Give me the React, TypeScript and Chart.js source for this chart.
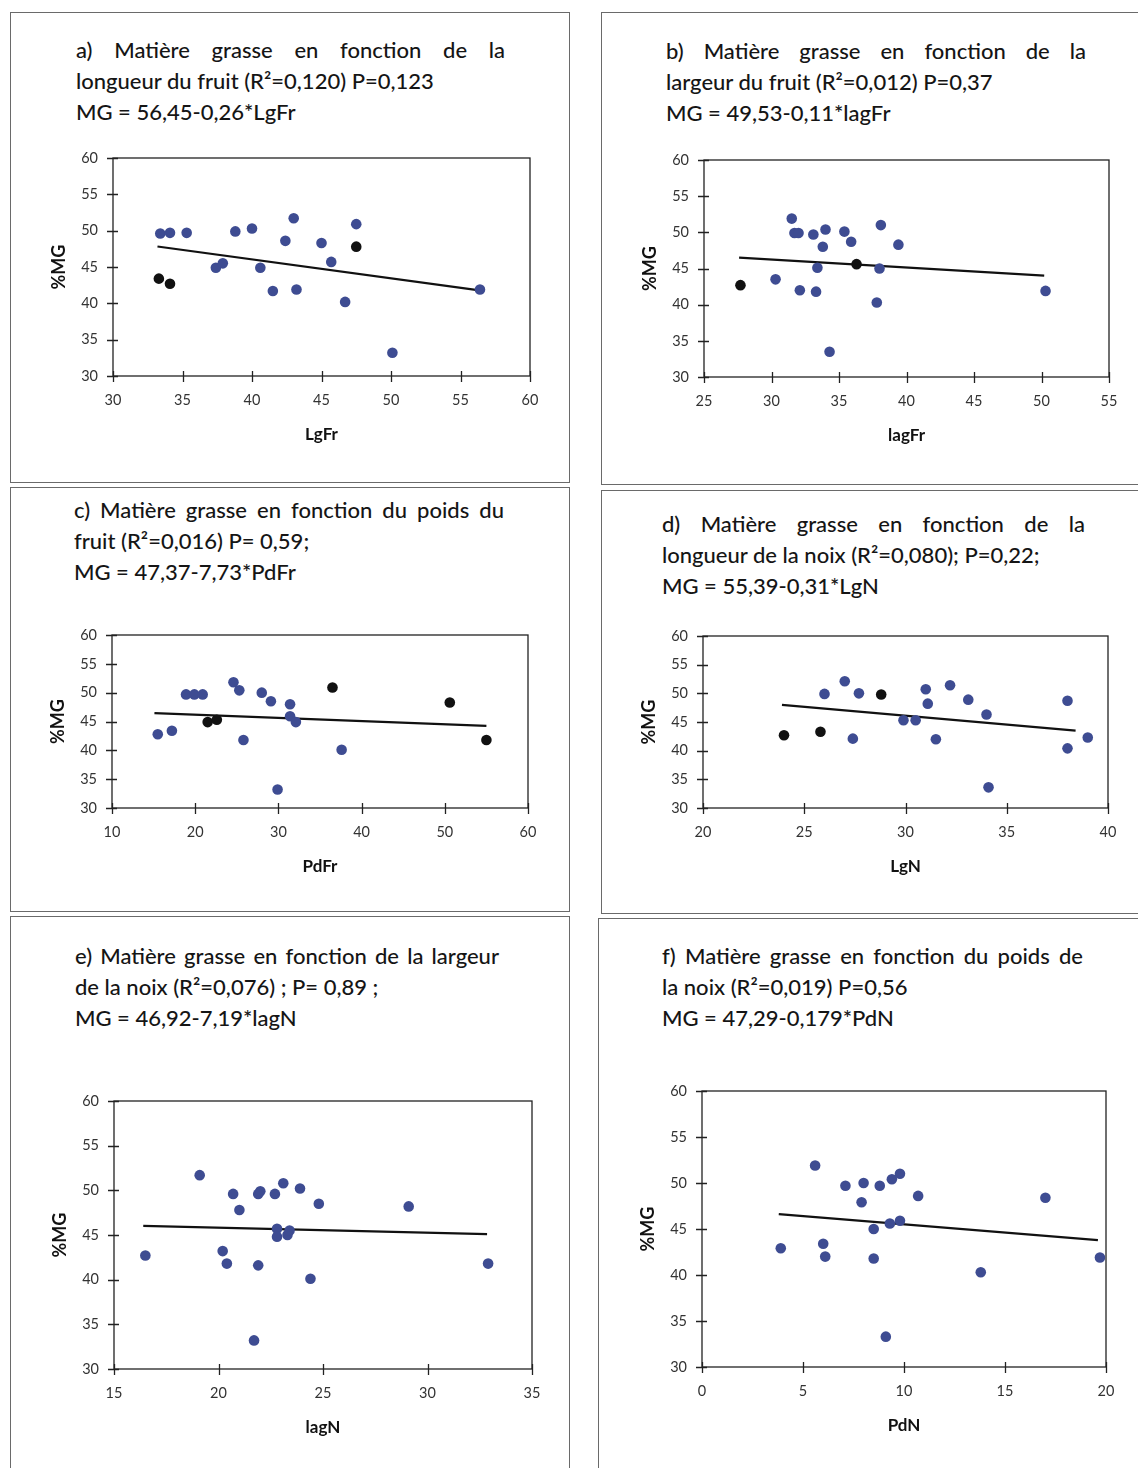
import React, { useEffect, useRef } from 'react';
import { Chart, registerables } from 'chart.js';
Chart.register(...registerables);

// ---------- data ----------
const aX = [33.4, 34.1, 35.3, 33.3, 34.1, 37.4, 37.9, 38.8, 40.0, 40.6, 41.5, 42.4, 43.0, 43.2, 45.0, 45.7, 46.7, 47.5, 47.5, 50.1, 56.4];
const aY = [49.6, 49.7, 49.7, 43.4, 42.7, 44.9, 45.5, 49.9, 50.3, 44.9, 41.7, 48.6, 51.7, 41.9, 48.3, 45.7, 40.2, 50.9, 47.8, 33.2, 41.9];
const aDark = [0, 0, 0, 1, 1, 0, 0, 0, 0, 0, 0, 0, 0, 0, 0, 0, 0, 0, 1, 0, 0];

const bX = [27.7, 30.3, 31.5, 31.7, 32.0, 32.1, 33.1, 33.8, 34.0, 33.4, 33.3, 34.3, 35.4, 35.9, 36.3, 37.8, 38.0, 38.1, 39.4, 50.3];
const bY = [42.7, 43.5, 51.9, 49.9, 49.9, 42.0, 49.7, 48.0, 50.4, 45.1, 41.8, 33.5, 50.1, 48.7, 45.6, 40.3, 45.0, 51.0, 48.3, 41.9];
const bDark = [1, 0, 0, 0, 0, 0, 0, 0, 0, 0, 0, 0, 0, 0, 1, 0, 0, 0, 0, 0];

const cX = [15.5, 17.2, 18.9, 19.9, 20.9, 21.5, 22.6, 24.6, 25.3, 25.8, 28.0, 29.1, 29.9, 31.4, 31.4, 32.1, 36.5, 37.6, 50.6, 55.0];
const cY = [42.8, 43.4, 49.7, 49.7, 49.7, 44.9, 45.3, 51.8, 50.4, 41.8, 50.0, 48.5, 33.2, 48.0, 45.9, 44.9, 50.9, 40.1, 48.3, 41.8];
const cDark = [0, 0, 0, 0, 0, 1, 1, 0, 0, 0, 0, 0, 0, 0, 0, 0, 1, 0, 1, 1];

const dX = [24.0, 25.8, 26.0, 27.0, 27.4, 27.7, 28.8, 29.9, 30.5, 31.0, 31.1, 31.5, 32.2, 33.1, 34.0, 34.1, 38.0, 38.0, 39.0];
const dY = [42.7, 43.3, 49.9, 52.1, 42.1, 50.0, 49.8, 45.3, 45.3, 50.7, 48.2, 42.0, 51.4, 48.9, 46.3, 33.6, 48.7, 40.4, 42.3];
const dDark = [1, 1, 0, 0, 0, 0, 1, 0, 0, 0, 0, 0, 0, 0, 0, 0, 0, 0, 0];

const eX = [16.5, 19.1, 20.2, 20.4, 20.7, 21.0, 21.7, 21.9, 21.9, 22.0, 22.7, 22.8, 22.8, 23.1, 23.3, 23.4, 23.9, 24.4, 24.8, 29.1, 32.9];
const eY = [42.7, 51.7, 43.2, 41.8, 49.6, 47.8, 33.2, 41.6, 49.6, 49.9, 49.6, 45.7, 44.8, 50.8, 45.0, 45.5, 50.2, 40.1, 48.5, 48.2, 41.8];
const eDark = eX.map(() => 0);

const fX = [3.9, 5.6, 6.0, 6.1, 7.1, 8.0, 7.9, 8.5, 8.5, 8.8, 9.1, 9.3, 9.4, 9.8, 9.8, 10.7, 13.8, 17.0, 19.7];
const fY = [42.9, 51.9, 43.4, 42.0, 49.7, 50.0, 47.9, 45.0, 41.8, 49.7, 33.3, 45.6, 50.4, 45.9, 51.0, 48.6, 40.3, 48.4, 41.9];
const fDark = fX.map(() => 0);

// regression lines: intercept, slope, x range
const lineIntercepts = [56.45, 49.53, 47.3, 55.39, 46.96, 47.29];
const lineSlopes = [-0.26, -0.11, -0.0556, -0.31, -0.057, -0.179];
const lineRanges = [[33.2, 56.1], [27.6, 50.2], [15.1, 55.0], [23.9, 38.4], [16.4, 32.85], [3.8, 19.6]];

// axes
const xTitles = ['LgFr', 'lagFr', 'PdFr', 'LgN', 'lagN', 'PdN'];
const xMins = [30, 25, 10, 20, 15, 0];
const xMaxs = [60, 55, 60, 40, 35, 20];
const xSteps = [5, 5, 10, 5, 5, 5];
const yTitle = '%MG';
const yMin = 30;
const yMax = 60;
const yStep = 5;

const titles = [
  ['a) Matière grasse en fonction de la', 'longueur du fruit (R²=0,120) P=0,123', 'MG = 56,45-0,26*LgFr'],
  ['b) Matière grasse en fonction de la', 'largeur du fruit (R²=0,012) P=0,37', 'MG = 49,53-0,11*lagFr'],
  ['c) Matière grasse en fonction du poids du', 'fruit (R²=0,016) P= 0,59;', 'MG = 47,37-7,73*PdFr'],
  ['d) Matière grasse en fonction de la', 'longueur de la noix (R²=0,080); P=0,22;', 'MG = 55,39-0,31*LgN'],
  ['e) Matière grasse en fonction de la largeur', 'de la noix (R²=0,076) ; P= 0,89 ;', 'MG = 46,92-7,19*lagN'],
  ['f) Matière grasse en fonction du poids de', 'la noix (R²=0,019) P=0,56', 'MG = 47,29-0,179*PdN'],
];

// ---------- layout (not data) ----------
const plotBoxes = [
  { L: 113, R: 530, T: 158, B: 376 },
  { L: 704, R: 1109, T: 160, B: 377 },
  { L: 112, R: 528, T: 635, B: 808 },
  { L: 703, R: 1108, T: 636, B: 808 },
  { L: 114, R: 532, T: 1101, B: 1369 },
  { L: 702, R: 1106, T: 1091, B: 1367 },
];
const titleBoxes = [
  { left: 76, right: 505, top: 49 },
  { left: 666, right: 1086, top: 50 },
  { left: 74, right: 504, top: 509 },
  { left: 662, right: 1085, top: 523 },
  { left: 75, right: 499, top: 955 },
  { left: 662, right: 1083, top: 955 },
];
const frames = [
  { left: 10, top: 12, width: 560, height: 471 },
  { left: 601, top: 12, width: 560, height: 473 },
  { left: 10, top: 487, width: 560, height: 425 },
  { left: 601, top: 490, width: 560, height: 424 },
  { left: 10, top: 916, width: 560, height: 600 },
  { left: 598, top: 918, width: 560, height: 600 },
];

const BLUE = '#3e4c92';
const DARK = '#111111';
const FONT = 'Lato, "Open Sans", sans-serif';

const xs = [aX, bX, cX, dX, eX, fX];
const ys = [aY, bY, cY, dY, eY, fY];
const darks = [aDark, bDark, cDark, dDark, eDark, fDark];

const framePlugin = {
  id: 'excelFrame',
  beforeDatasetsDraw(chart: any) {
    const { ctx, chartArea } = chart;
    const { left, right, top, bottom } = chartArea;
    const x = chart.scales.x;
    const y = chart.scales.y;
    ctx.save();
    ctx.strokeStyle = '#222';
    ctx.lineWidth = 1.3;
    ctx.strokeRect(left, top, right - left, bottom - top);
    ctx.beginPath();
    x.ticks.forEach((t: any) => {
      const px = Math.round(x.getPixelForValue(t.value)) + 0.5;
      ctx.moveTo(px, bottom - 5);
      ctx.lineTo(px, bottom + 6);
    });
    y.ticks.forEach((t: any) => {
      const py = Math.round(y.getPixelForValue(t.value)) + 0.5;
      ctx.moveTo(left - 6, py);
      ctx.lineTo(left + 5, py);
    });
    ctx.stroke();
    ctx.restore();
  },
};

const PADL = 80;
const PADR = 15;
const PADT = 10;
const PADB = 80;

function zeroPad(s: any) {
  s.paddingTop = 0;
  s.paddingBottom = 0;
  s.paddingLeft = 0;
  s.paddingRight = 0;
}

function ScatterPanel({ idx }: { idx: number }) {
  const ref = useRef<HTMLCanvasElement>(null);
  const box = plotBoxes[idx];
  const w = box.R - box.L + PADL + PADR;
  const h = box.B - box.T + PADT + PADB;
  useEffect(() => {
    const blue: any[] = [];
    const dark: any[] = [];
    xs[idx].forEach((x, i) => {
      (darks[idx][i] ? dark : blue).push({ x, y: ys[idx][i] });
    });
    const line = lineRanges[idx].map((x) => ({ x, y: lineIntercepts[idx] + lineSlopes[idx] * x }));
    const chart = new Chart(ref.current as HTMLCanvasElement, {
      type: 'scatter',
      data: {
        datasets: [
          { data: blue, backgroundColor: BLUE, borderColor: BLUE, pointRadius: 5.3, borderWidth: 0, order: 1 } as any,
          { data: dark, backgroundColor: DARK, borderColor: DARK, pointRadius: 5.3, borderWidth: 0, order: 0 } as any,
          { data: line, showLine: true, borderColor: '#111', borderWidth: 2.2, pointRadius: 0, order: 2 } as any,
        ],
      },
      options: {
        responsive: false,
        animation: false,
        events: [],
        layout: { padding: { top: PADT, right: PADR, bottom: 0, left: 0 }, autoPadding: false } as any,
        plugins: { legend: { display: false }, tooltip: { enabled: false } },
        scales: {
          x: {
            type: 'linear',
            min: xMins[idx],
            max: xMaxs[idx],
            ticks: { stepSize: xSteps[idx], padding: 16, color: '#333', font: { family: FONT, size: 14.5 }, maxRotation: 0, autoSkip: false },
            grid: { display: false, drawTicks: false },
            border: { display: false },
            title: { display: true, text: xTitles[idx], color: '#111', font: { family: FONT, size: 17, weight: 'bold' }, padding: { top: 0, bottom: 11 } },
            afterFit: (s: any) => { s.height = PADB; zeroPad(s); },
          } as any,
          y: {
            type: 'linear',
            min: yMin,
            max: yMax,
            ticks: { stepSize: yStep, padding: 15, color: '#333', font: { family: FONT, size: 14.5 } },
            grid: { display: false, drawTicks: false },
            border: { display: false },
            title: { display: true, text: yTitle, color: '#111', font: { family: FONT, size: 18, weight: 'bold' }, padding: { top: 15, bottom: 0 } },
            afterFit: (s: any) => { s.width = PADL; zeroPad(s); },
          } as any,
        },
      },
      plugins: [framePlugin],
    });
    return () => chart.destroy();
  }, [idx]);
  return (
    <canvas
      ref={ref}
      width={w}
      height={h}
      style={{ position: 'absolute', left: box.L - PADL, top: box.T - PADT, width: w, height: h }}
    />
  );
}

function TitleBlock({ idx }: { idx: number }) {
  const tb = titleBoxes[idx];
  const lines = titles[idx];
  const lh = 31;
  return (
    <div
      style={{
        position: 'absolute',
        left: tb.left,
        top: tb.top - lh / 2,
        width: tb.right - tb.left,
        fontFamily: FONT,
        fontSize: 22,
        fontWeight: 500,
        lineHeight: lh + 'px',
        color: '#151515',
        whiteSpace: 'nowrap',
      }}
    >
      <div style={{ display: 'flex', justifyContent: 'space-between' }}>
        {lines[0].split(' ').map((wd, i) => (
          <span key={i}>{wd}</span>
        ))}
      </div>
      <div>{lines[1]}</div>
      <div>{lines[2]}</div>
    </div>
  );
}

export default function App() {
  useEffect(() => {
    document.body.style.margin = '0';
  }, []);
  return (
    <div style={{ position: 'absolute', left: 0, top: 0, width: 1138, height: 1468, overflow: 'hidden', background: '#fff' }}>
      {frames.map((f, i) => (
        <div
          key={'f' + i}
          style={{
            position: 'absolute',
            left: f.left,
            top: f.top,
            width: f.width,
            height: f.height,
            border: '1.5px solid #6a6a6a',
            boxSizing: 'border-box',
          }}
        />
      ))}
      {titles.map((_, i) => (
        <TitleBlock key={'t' + i} idx={i} />
      ))}
      {plotBoxes.map((_, i) => (
        <ScatterPanel key={'p' + i} idx={i} />
      ))}
    </div>
  );
}
